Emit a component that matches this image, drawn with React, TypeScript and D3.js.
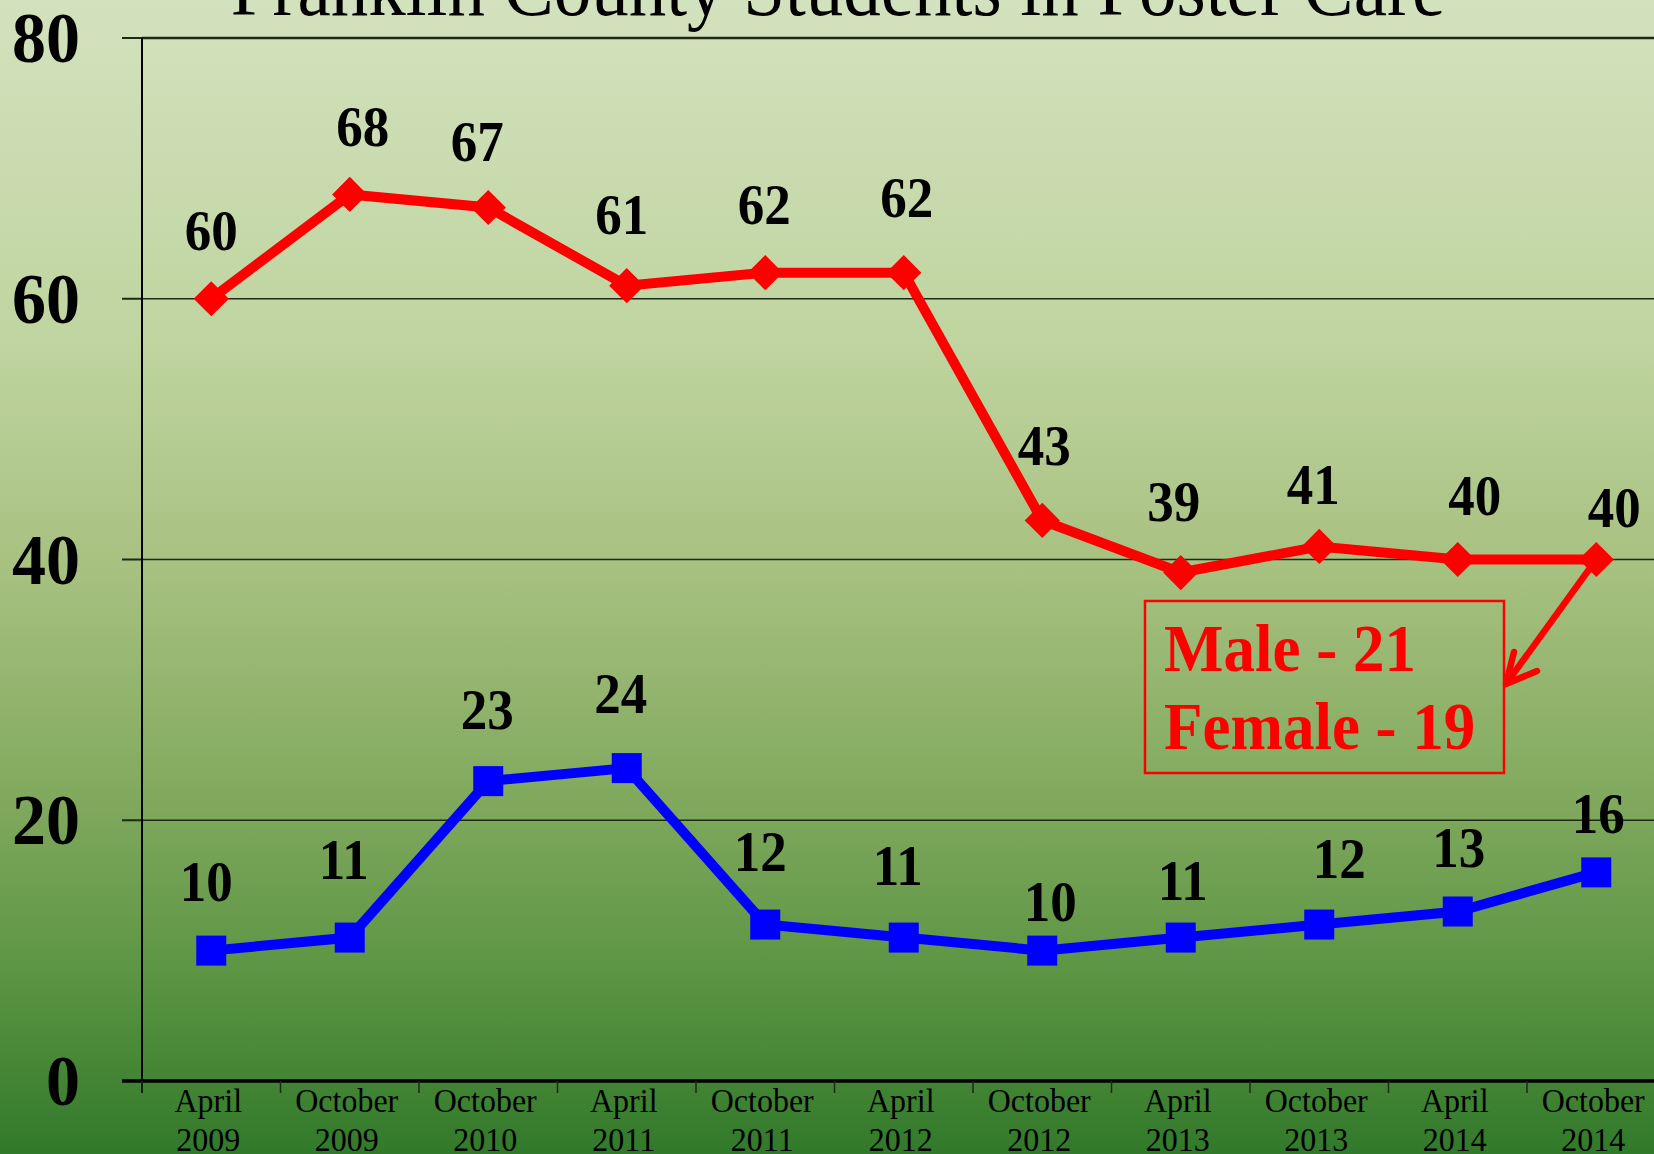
import { useEffect, useRef } from 'react';
import * as d3 from 'd3';

const titleText = 'Franklin County Students in Foster Care';
const periods = ['April 2009', 'October 2009', 'October 2010', 'April 2011', 'October 2011', 'April 2012',
  'October 2012', 'April 2013', 'October 2013', 'April 2014', 'October 2014'];
const redSeries = [60, 68, 67, 61, 62, 62, 43, 39, 41, 40, 40];
const blueSeries = [10, 11, 23, 24, 12, 11, 10, 11, 12, 13, 16];
const yTicks = [0, 20, 40, 60, 80];
const noteLines = ['Male - 21', 'Female - 19'];

// hand placed label nudges (px) like the slide had them
const redNudge = [[0, -49], [13, -48], [-11, -46], [-5, -52], [-1, -49], [3, -56], [2, -55], [-7, -52], [-6, -42], [17, -45], [18, -33]];
const blueNudge = [[-5, -50], [-6, -59], [-1, -52], [-6, -55], [-5, -54], [-6, -53], [8, -30], [2, -38], [20, -47], [1, -45], [2, -39]];

const FONT = '"Liberation Serif", "Times New Roman", serif';
const STRETCH = 1.07; // slide text was a bit stretched vertically

export default function App() {
  const ref = useRef<SVGSVGElement>(null);

  useEffect(() => {
    if (!ref.current) return;
    const W = 1654, H = 1154;
    const svg = d3.select(ref.current).attr('width', W).attr('height', H);
    svg.selectAll('*').remove();

    const grad = svg.append('defs').append('linearGradient').attr('id', 'bg')
      .attr('x1', 0).attr('y1', 0).attr('x2', 0).attr('y2', 1);
    [[0, '#d3e2be'], [0.3, '#bfd49f'], [0.5, '#a6c07f'], [0.7, '#7fa85c'], [0.85, '#5a9442'], [1, '#31792a']]
      .forEach(([o, c]) => grad.append('stop').attr('offset', o as number).attr('stop-color', c as string));
    svg.append('rect').attr('width', W).attr('height', H).attr('fill', 'url(#bg)');

    const left = 142, band = 138.5;
    const x = d3.scaleBand().domain(periods).range([left, left + band * periods.length]);
    const y = d3.scaleLinear().domain([0, 80]).range([1081, 38]);
    const cx = (i: number) => (x(periods[i]) as number) + x.bandwidth() / 2;

    const label = (px: number, py: number, size: number) =>
      svg.append('text').attr('transform', `translate(${px},${py}) scale(1,${STRETCH})`)
        .attr('font-family', FONT).attr('font-size', size).attr('fill', '#000');

    // title, cut off at top like the slide
    label(838, 15, 75).attr('text-anchor', 'middle').text(titleText);

    // grid + y ticks
    yTicks.forEach(t => {
      if (t > 0) {
        svg.append('line').attr('x1', left).attr('x2', W).attr('y1', y(t)).attr('y2', y(t))
          .attr('stroke', '#1c2a14').attr('stroke-width', t === 80 ? 2.5 : 1.5);
      }
      svg.append('line').attr('x1', left - 20).attr('x2', left).attr('y1', y(t)).attr('y2', y(t))
        .attr('stroke', '#1c2a14').attr('stroke-width', 2);
      label(80, y(t) + 24, 68).attr('text-anchor', 'end').attr('font-weight', 'bold').text(t);
    });

    // axes
    svg.append('line').attr('x1', left).attr('x2', left).attr('y1', y(80)).attr('y2', y(0) + 12)
      .attr('stroke', '#000').attr('stroke-width', 2);
    svg.append('line').attr('x1', left - 20).attr('x2', W).attr('y1', y(0)).attr('y2', y(0))
      .attr('stroke', '#000').attr('stroke-width', 3.5);
    d3.range(periods.length + 1).forEach(i => {
      const xx = left + i * x.bandwidth();
      svg.append('line').attr('x1', xx).attr('x2', xx).attr('y1', y(0)).attr('y2', y(0) + 12)
        .attr('stroke', '#1c2a14').attr('stroke-width', 1.5);
    });
    periods.forEach((p, i) => {
      const [m, yr] = p.split(' ');
      const t = label(cx(i) - 3, 1112, 32).attr('text-anchor', 'middle');
      t.append('tspan').attr('x', 0).attr('y', 0).text(m);
      t.append('tspan').attr('x', 0).attr('y', 39 / STRETCH).text(yr);
    });

    const line = d3.line<number>().x((_, i) => cx(i)).y(d => y(d));

    // blue series
    svg.append('path').attr('d', line(blueSeries)).attr('fill', 'none').attr('stroke', '#0000ff')
      .attr('stroke-width', 10).attr('stroke-linejoin', 'miter');
    blueSeries.forEach((v, i) => {
      svg.append('rect').attr('x', cx(i) - 15).attr('y', y(v) - 15).attr('width', 30).attr('height', 30)
        .attr('fill', '#0000ff');
    });

    // red series
    svg.append('path').attr('d', line(redSeries)).attr('fill', 'none').attr('stroke', '#ff0000')
      .attr('stroke-width', 10).attr('stroke-linejoin', 'miter');
    const diamond = d3.symbol(d3.symbolSquare, 620);
    redSeries.forEach((v, i) => {
      svg.append('path').attr('d', diamond()).attr('fill', '#ff0000')
        .attr('transform', `translate(${cx(i)},${y(v)}) rotate(45)`);
    });

    // data labels
    const dataLabels = (data: number[], nudge: number[][]) => data.forEach((v, i) => {
      label(cx(i) + nudge[i][0], y(v) + nudge[i][1], 53)
        .attr('text-anchor', 'middle').attr('font-weight', 'bold').text(v);
    });
    dataLabels(redSeries, redNudge);
    dataLabels(blueSeries, blueNudge);

    // gender note
    svg.append('rect').attr('x', 1145).attr('y', 601).attr('width', 359).attr('height', 172)
      .attr('fill', 'none').attr('stroke', '#ff0000').attr('stroke-width', 2.5);
    noteLines.forEach((s, i) => {
      label(1164, 671 + i * 78, 63).attr('font-weight', 'bold').attr('fill', '#ff0000').text(s);
    });
    const last = redSeries.length - 1;
    const tip: [number, number] = [1506, 684];
    svg.append('line').attr('x1', cx(last)).attr('y1', y(redSeries[last])).attr('x2', tip[0]).attr('y2', tip[1])
      .attr('stroke', '#ff0000').attr('stroke-width', 6.5);
    svg.append('path').attr('d', d3.line()([[1514, 652], tip, [1537, 671]]))
      .attr('fill', 'none').attr('stroke', '#ff0000').attr('stroke-width', 6.5)
      .attr('stroke-linecap', 'round').attr('stroke-linejoin', 'round');
  }, []);

  return (
    <svg ref={ref} style={{ position: 'absolute', left: 0, top: 0, display: 'block' }} />
  );
}
